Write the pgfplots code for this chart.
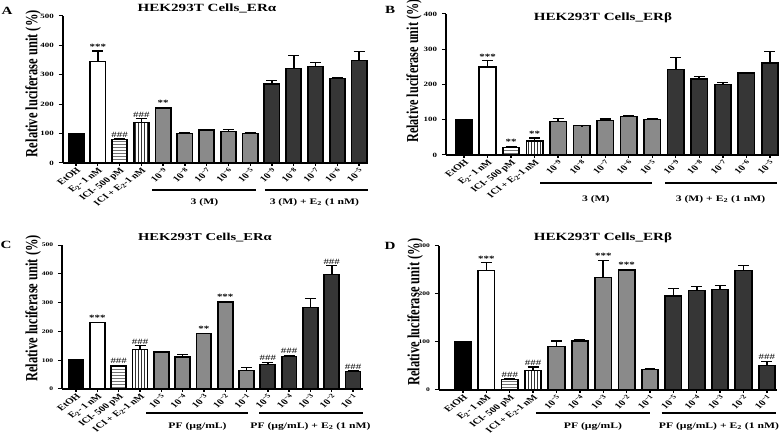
\documentclass[border=0pt]{standalone}
\usepackage{pgfplots}
\pgfplotsset{compat=1.18}
\usetikzlibrary{patterns}
\usepackage{fontspec}
\setmainfont{Liberation Serif}
\definecolor{gA}{HTML}{8A8A8A}
\definecolor{gB}{HTML}{363636}
\pgfplotsset{
  panel/.style={scale only axis, axis lines*=left, ymin=0, xtick={0,...,13},
    tick align=outside, major tick length=3pt,
    axis line style={line width=1.2pt},
    every tick/.append style={line width=1pt, black},
    clip=false, /pgf/number format/assume math mode=true,
    xticklabel style={rotate=45, anchor=north east, inner sep=0.5pt, font=\fontsize{8}{9}\selectfont\bfseries},
    ylabel={Relative luciferase unit (\%)},
    ylabel style={font=\fontsize{12.5}{13}\selectfont\bfseries, anchor=center}},
  bn/.style={ybar, bar width=0.7, bar shift=0pt, draw=black, line width=1.3pt},
  be/.style={ybar, bar width=0.7, bar shift=0pt, draw=black, line width=1.3pt,
    error bars/y dir=plus, error bars/y explicit,
    error bars/error bar style={line width=1.2pt, black},
    error bars/error mark options={rotate=90, line width=1.2pt, mark size=4pt, black}},
}
\newcommand{\ann}[3]{\node[anchor=south, inner sep=1pt, font=\fontsize{8}{9}\selectfont\bfseries] at (axis cs:#1,#2) {#3};}
\newcommand{\hsh}[2]{\node[anchor=south, inner sep=1pt, font=\fontsize{8}{9}\selectfont\mdseries] at (axis cs:#1,#2) {\#\#\#};}
\newcommand{\tp}[1]{10\textsuperscript{−#1}}
\begin{document}
\begin{tikzpicture}[font=\bfseries]
\useasboundingbox (0,0) rectangle (779pt,439pt);
\begin{scope}[transform canvas={xscale=1.37}]
% Panel labels and titles
\node[font=\fontsize{11}{12}\selectfont\bfseries] at (5.1pt,428pt) {A};
\node[font=\fontsize{11}{12}\selectfont\bfseries] at (284.7pt,429pt) {B};
\node[font=\fontsize{11}{12}\selectfont\bfseries] at (4.5pt,194pt) {C};
\node[font=\fontsize{11}{12}\selectfont\bfseries] at (284.7pt,193pt) {D};
\node[font=\fontsize{11}{12}\selectfont\bfseries] at (151.1pt,431pt) {HEK293T Cells\_ERα};
\node[font=\fontsize{11}{12}\selectfont\bfseries] at (440.1pt,421.5pt) {HEK293T Cells\_ERβ};
\node[font=\fontsize{10.6}{12}\selectfont\bfseries] at (149.6pt,201pt) {HEK293T Cells\_ERα};
\node[font=\fontsize{11}{12}\selectfont\bfseries] at (440.1pt,201.5pt) {HEK293T Cells\_ERβ};

% ---------------- Panel A
\begin{axis}[panel, at={(45.8pt,276pt)}, anchor=south west, width=222.8pt, height=147pt,
  xmin=-0.61, xmax=13.41, ymax=500, ytick={0,100,...,500},
  yticklabel style={font=\fontsize{6.5}{7}\selectfont\bfseries},
  ylabel style={at={(axis description cs:-0.097,0.54)}},
  xticklabels={EtOH, E\textsubscript{2}- 1 nM, ICI- 500 pM, ICI + E\textsubscript{2}-1 nM,
   \tp{9},\tp{8},\tp{7},\tp{6},\tp{5},\tp{9},\tp{8},\tp{7},\tp{6},\tp{5}}]
\addplot[bn, fill=black] coordinates {(0,100)};
\addplot[be, fill=white] coordinates {(1,345) +- (0,36)};
\addplot[be, pattern=horizontal lines, pattern color=black!55] coordinates {(2,80) +- (0,3)};
\addplot[be, pattern=vertical lines, pattern color=black!80] coordinates {(3,138) +- (0,12)};
\addplot[be, fill=gA] coordinates {(4,187) +- (0,2) (5,101) +- (0,1) (6,112) +- (0,1) (7,106) +- (0,7) (8,100) +- (0,3)};
\addplot[be, fill=gB] coordinates {(9,269) +- (0,12) (10,322) +- (0,44) (11,329) +- (0,14) (12,287) +- (0,3) (13,349) +- (0,31)};
\ann{1}{382}{***}
\hsh{2}{84}
\hsh{3}{151}
\ann{4}{190}{**}
\draw[line width=1.3pt] ([yshift=-27pt]axis cs:3.49,0) -- ([yshift=-27pt]axis cs:8.26,0);
\draw[line width=1.3pt] ([yshift=-27pt]axis cs:8.67,0) -- ([yshift=-27pt]axis cs:13.4,0);
\node[font=\fontsize{8.5}{9}\selectfont\bfseries] at ([yshift=-39pt]axis cs:5.9,0) {3 (M)};
\node[font=\fontsize{8.5}{9}\selectfont\bfseries] at ([yshift=-39pt]axis cs:10.95,0) {3 (M) + E\textsubscript{2} (1 nM)};
\end{axis}

% ---------------- Panel B
\begin{axis}[panel, at={(325.5pt,284pt)}, anchor=south west, width=242.3pt, height=141pt,
  xmin=-0.77, xmax=13.34, ymax=400, ytick={0,100,...,400},
  yticklabel style={font=\fontsize{6.5}{7}\selectfont\bfseries},
  ylabel style={font=\fontsize{12.2}{13}\selectfont\bfseries, at={(axis description cs:-0.096,0.595)}},
  xticklabels={EtOH, E\textsubscript{2}- 1 nM, ICI- 500 pM, ICI + E\textsubscript{2}-1 nM,
   \tp{9},\tp{8},\tp{7},\tp{6},\tp{5},\tp{9},\tp{8},\tp{7},\tp{6},\tp{5}}]
\addplot[bn, fill=black] coordinates {(0,100)};
\addplot[be, fill=white] coordinates {(1,250) +- (0,17)};
\addplot[be, pattern=horizontal lines, pattern color=black!55] coordinates {(2,22) +- (0,2)};
\addplot[be, pattern=vertical lines, pattern color=black!80] coordinates {(3,40) +- (0,8)};
\addplot[be, fill=gA] coordinates {(4,96) +- (0,8) (5,83) +- (0,0.5) (6,98) +- (0,4) (7,110) +- (0,3) (8,101) +- (0,2)};
\addplot[be, fill=gB] coordinates {(9,243) +- (0,33) (10,216) +- (0,7) (11,199) +- (0,6) (12,233) +- (0,2) (13,261) +- (0,32)};
\ann{1}{268}{***}
\ann{2}{25}{**}
\ann{3}{49}{**}
\draw[line width=1.3pt] ([yshift=-28pt]axis cs:3.23,0) -- ([yshift=-28pt]axis cs:8.0,0);
\draw[line width=1.3pt] ([yshift=-28pt]axis cs:8.55,0) -- ([yshift=-28pt]axis cs:13.3,0);
\node[font=\fontsize{8.5}{9}\selectfont\bfseries] at ([yshift=-44pt]axis cs:5.6,0) {3 (M)};
\node[font=\fontsize{8.5}{9}\selectfont\bfseries] at ([yshift=-44pt]axis cs:10.9,0) {3 (M) + E\textsubscript{2} (1 nM)};
\end{axis}

% ---------------- Panel C
\begin{axis}[panel, at={(45.3pt,50pt)}, anchor=south west, width=219.7pt, height=144pt,
  xmin=-0.66, xmax=13.47, ymax=500, ytick={0,100,...,500},
  yticklabel style={font=\fontsize{5.5}{6}\selectfont\bfseries},
  ylabel style={at={(axis description cs:-0.096,0.56)}},
  xticklabels={EtOH, E\textsubscript{2}- 1 nM, ICI- 500 pM, ICI + E\textsubscript{2}-1 nM,
   \tp{5},\tp{4},\tp{3},\tp{2},\tp{1},\tp{5},\tp{4},\tp{3},\tp{2},\tp{1}}]
\addplot[bn, fill=black] coordinates {(0,101)};
\addplot[be, fill=white] coordinates {(1,230) +- (0,2)};
\addplot[be, pattern=horizontal lines, pattern color=black!55] coordinates {(2,80) +- (0,2)};
\addplot[be, pattern=vertical lines, pattern color=black!80] coordinates {(3,138) +- (0,12)};
\addplot[be, fill=gA] coordinates {(4,128) +- (0,1) (5,111) +- (0,10) (6,193) +- (0,1) (7,302) +- (0,2) (8,64) +- (0,11)};
\addplot[be, fill=gB] coordinates {(9,85) +- (0,8) (10,113) +- (0,3) (11,283) +- (0,31) (12,398) +- (0,30) (13,61) +- (0,2)};
\ann{1}{233}{***}
\hsh{2}{84}
\hsh{3}{151}
\ann{6}{196}{**}
\ann{7}{305}{***}
\hsh{9}{95}
\hsh{10}{118}
\hsh{12}{429}
\hsh{13}{65}
\draw[line width=1.3pt] ([yshift=-24pt]axis cs:3.29,0) -- ([yshift=-24pt]axis cs:8.08,0);
\draw[line width=1.3pt] ([yshift=-24pt]axis cs:8.6,0) -- ([yshift=-24pt]axis cs:13.47,0);
\node[font=\fontsize{8.5}{9}\selectfont\bfseries] at ([yshift=-37pt]axis cs:5.7,0) {PF (µg/mL)};
\node[font=\fontsize{8.5}{9}\selectfont\bfseries] at ([yshift=-37pt]axis cs:11.0,0) {PF (µg/mL) + E\textsubscript{2} (1 nM)};
\end{axis}

% ---------------- Panel D
\begin{axis}[panel, at={(320.4pt,49pt)}, anchor=south west, width=246.7pt, height=144pt,
  xmin=-1.03, xmax=13.43, ymax=300, ytick={0,100,...,300},
  yticklabel style={font=\fontsize{5.5}{6}\selectfont\bfseries},
  ylabel style={at={(axis description cs:-0.07,0.54)}},
  xticklabels={EtOH, E\textsubscript{2}- 1 nM, ICI- 500 pM, ICI + E\textsubscript{2}-1 nM,
   \tp{5},\tp{4},\tp{3},\tp{2},\tp{1},\tp{5},\tp{4},\tp{3},\tp{2},\tp{1}}]
\addplot[bn, fill=black] coordinates {(0,100)};
\addplot[be, fill=white] coordinates {(1,249) +- (0,16)};
\addplot[be, pattern=horizontal lines, pattern color=black!55] coordinates {(2,22) +- (0,1)};
\addplot[be, pattern=vertical lines, pattern color=black!80] coordinates {(3,40) +- (0,8)};
\addplot[be, fill=gA] coordinates {(4,91) +- (0,11) (5,102) +- (0,4) (6,235) +- (0,35) (7,250) +- (0,1) (8,43) +- (0,2)};
\addplot[be, fill=gB] coordinates {(9,196) +- (0,16) (10,207) +- (0,8) (11,209) +- (0,8) (12,249) +- (0,11) (13,51) +- (0,9)};
\ann{1}{266}{***}
\hsh{2}{24}
\hsh{3}{49}
\ann{6}{271}{***}
\ann{7}{252}{***}
\hsh{13}{61}
\draw[line width=1.3pt] ([yshift=-23pt]axis cs:3.12,0) -- ([yshift=-23pt]axis cs:8.0,0);
\draw[line width=1.3pt] ([yshift=-23pt]axis cs:8.5,0) -- ([yshift=-23pt]axis cs:13.4,0);
\node[font=\fontsize{8.5}{9}\selectfont\bfseries] at ([yshift=-36pt]axis cs:5.56,0) {PF (µg/mL)};
\node[font=\fontsize{8.5}{9}\selectfont\bfseries] at ([yshift=-36pt]axis cs:10.95,0) {PF (µg/mL) + E\textsubscript{2} (1 nM)};
\end{axis}
\end{scope}
\end{tikzpicture}
\end{document}
